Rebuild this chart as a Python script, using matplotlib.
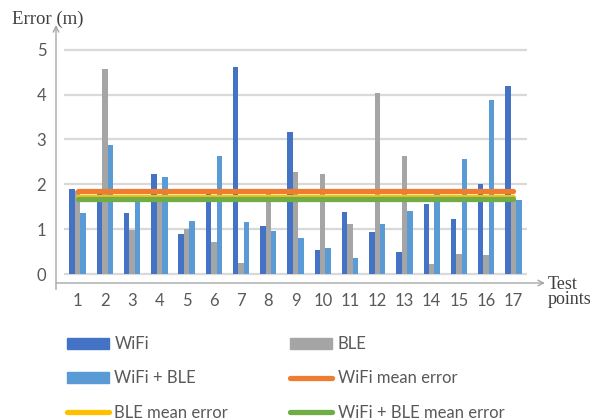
import matplotlib.pyplot as plt
import numpy as np
from matplotlib.patches import Patch
from matplotlib.lines import Line2D

points = list(range(1, 18))
wifi = [1.90, 1.80, 1.35, 2.22, 0.90, 1.80, 4.62, 1.06, 3.17, 0.54, 1.39, 0.94, 0.50, 1.55, 1.23, 2.01, 4.18]
ble = [1.85, 4.58, 0.99, 1.65, 1.01, 0.72, 0.25, 1.80, 2.28, 2.22, 1.12, 4.04, 2.62, 0.23, 0.45, 0.43, 1.70]
wifi_ble = [1.37, 2.88, 1.68, 2.17, 1.19, 2.64, 1.17, 0.97, 0.80, 0.57, 0.36, 1.12, 1.41, 1.78, 2.57, 3.87, 1.66]
mean_wifi = 1.84
mean_ble = 1.71
mean_wifi_ble = 1.67

c_wifi = "#4472C4"
c_ble = "#A5A5A5"
c_both = "#5B9BD5"
c_orange = "#ED7D31"
c_yellow = "#FFC000"
c_green = "#70AD47"
grey_txt = "#595959"
sans = "Lato"
serif = "Liberation Serif"

fig = plt.figure(figsize=(5.95, 4.2), dpi=100)
ax = fig.add_axes([56/595, (420-283)/420, 489/595, 258/420])
ax.set_xlim(0.206, 18.16)
ax.set_ylim(-0.2, 5.55)

x = np.array(points)
w = 0.2
# gridlines
ax.hlines(range(0, 6), 0.5, 17.5, color="#D9D9D9", lw=1.6, zorder=0)

ax.bar(x - w, wifi, w, color=c_wifi, zorder=2)
ax.bar(x, ble, w, color=c_ble, zorder=2)
ax.bar(x + w, wifi_ble, w, color=c_both, zorder=2)

ax.plot([1, 17], [mean_wifi]*2, color=c_orange, lw=3.8, solid_capstyle="round", zorder=3)
ax.plot([1, 17], [mean_ble]*2, color=c_yellow, lw=3.8, solid_capstyle="round", zorder=3)
ax.plot([1, 17], [mean_wifi_ble]*2, color=c_green, lw=3.8, solid_capstyle="round", zorder=3)

for s in ax.spines.values():
    s.set_visible(False)

# arrow axes
ax.annotate("", xy=(0, 1), xytext=(0, -0.025), xycoords="axes fraction",
            arrowprops=dict(arrowstyle="->", color="#A6A6A6", lw=1.0, shrinkA=0, shrinkB=0))
ax.annotate("", xy=(1, 0), xytext=(0, 0), xycoords="axes fraction",
            arrowprops=dict(arrowstyle="->", color="#A6A6A6", lw=1.0, shrinkA=0, shrinkB=0))

ax.set_yticks(range(0, 6))
ax.set_yticklabels([str(i) for i in range(0, 6)], fontfamily=sans, fontsize=12, color=grey_txt)
ax.set_xticks(points)
ax.set_xticklabels([str(p) for p in points], fontfamily=sans, fontsize=12, color=grey_txt)
ax.tick_params(axis="y", length=0, pad=7)
ax.tick_params(axis="x", length=0, pad=7)

fig.text(12/595, 1 - 19/420, "Error (m)", family=serif, fontsize=13.5, color="#404040", va="center", ha="left")
fig.text(548/595, 1 - 292/420, "Test\npoints", family=serif, fontsize=13, color="#404040",
         va="center", ha="left", linespacing=0.9)

h1 = [Patch(color=c_wifi), Patch(color=c_both), Line2D([], [], color=c_yellow, lw=3.8, solid_capstyle="round")]
l1 = ["WiFi", "WiFi + BLE", "BLE mean error"]
h2 = [Patch(color=c_ble), Line2D([], [], color=c_orange, lw=3.8, solid_capstyle="round"),
      Line2D([], [], color=c_green, lw=3.8, solid_capstyle="round")]
l2 = ["BLE", "WiFi mean error", "WiFi + BLE mean error"]
for hs, ls, x0 in [(h1, l1, 67), (h2, l2, 290)]:
    leg = fig.legend(hs, ls, loc="upper left", bbox_to_anchor=(x0/595, 1 - 336/420),
                     frameon=False, borderpad=0, borderaxespad=0, handlelength=2.5,
                     handleheight=0.65, handletextpad=0.35, labelspacing=1.1,
                     prop={"family": sans, "size": 12})
    for t in leg.get_texts():
        t.set_color(grey_txt)

fig.savefig("out.png", dpi=100)
